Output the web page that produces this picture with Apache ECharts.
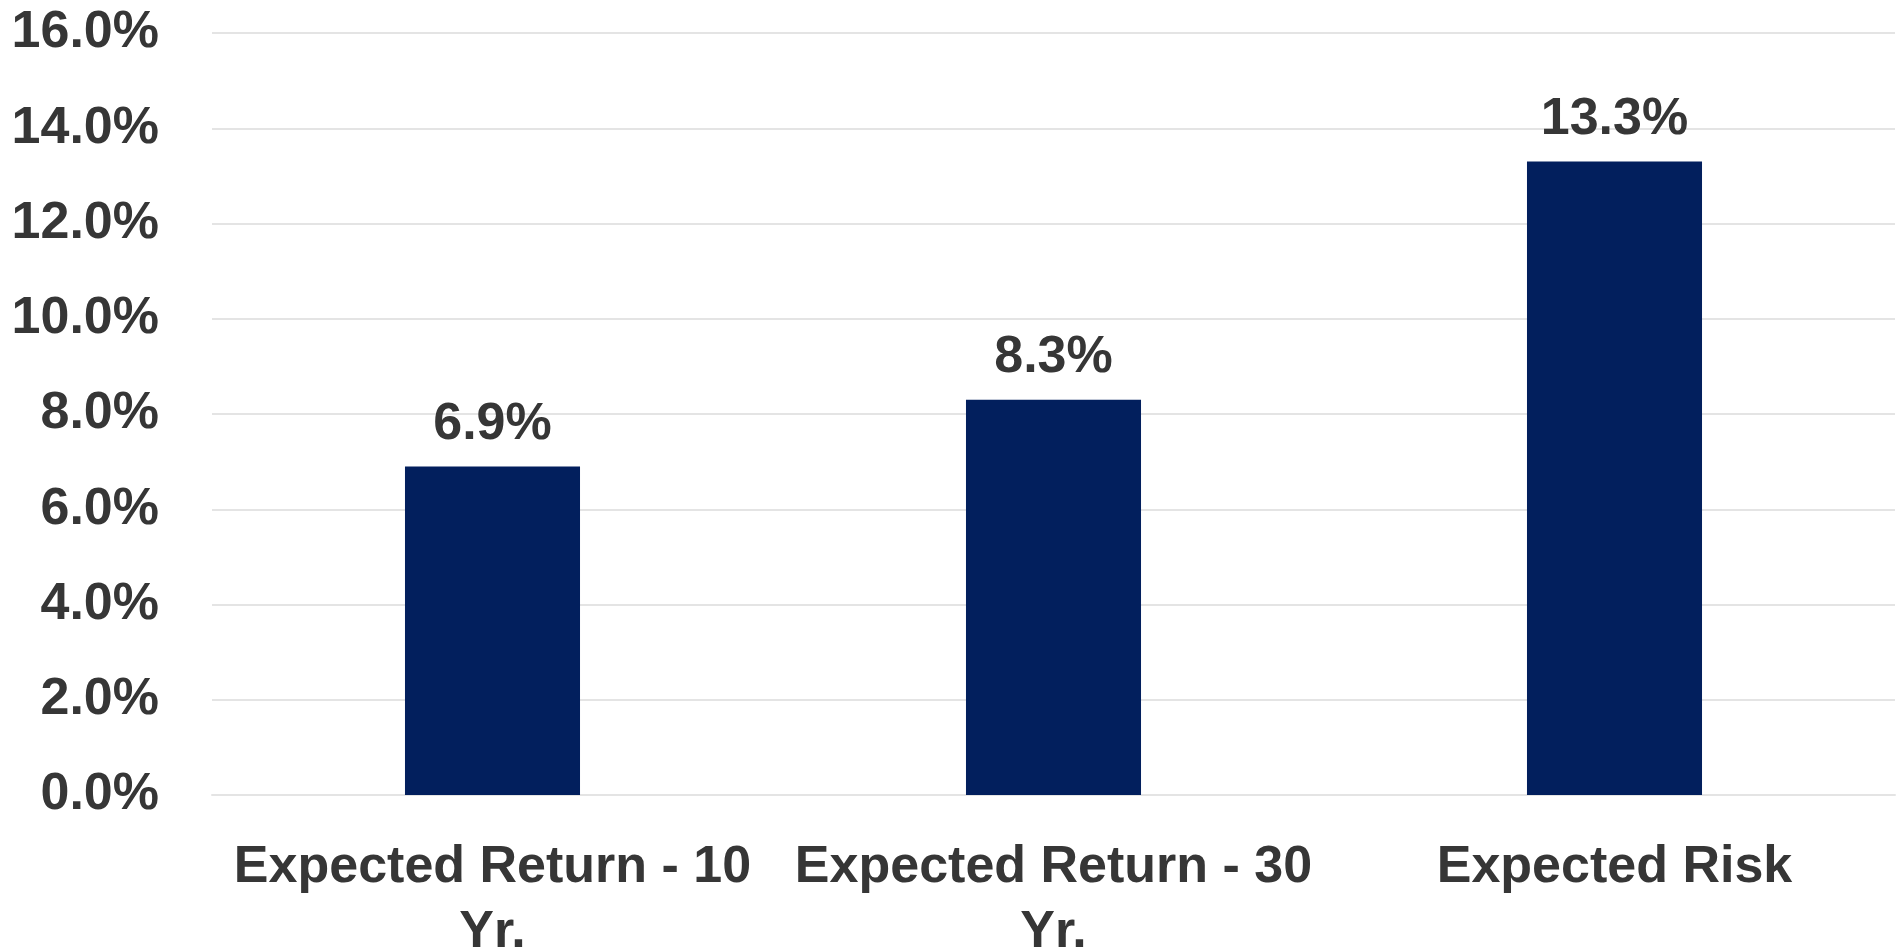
<!DOCTYPE html>
<html>
<head>
<meta charset="utf-8">
<script src="https://cdn.jsdelivr.net/npm/echarts@6/dist/echarts.min.js"></script>
<style>
html,body{margin:0;padding:0;background:#fff;}
#chart{width:1902px;height:952px;}
</style>
</head>
<body>
<div id="chart"></div>
<script>
const categories = ['Expected Return - 10 Yr.', 'Expected Return - 30 Yr.', 'Expected Risk'];
const values = [6.9, 8.3, 13.3];
const yMin = 0, yMax = 16, yStep = 2;

const FONT = '"Liberation Sans Narrow", "Arial Narrow", "Liberation Sans", Arial, sans-serif';
const TEXT = '#363636';

const chart = echarts.init(document.getElementById('chart'));
chart.setOption({
  animation: false,
  backgroundColor: '#ffffff',
  grid: { left: 212, right: 7, top: 33, bottom: 157, containLabel: false, outerBoundsMode: 'none' },
  xAxis: {
    type: 'category',
    data: categories,
    axisLine: { show: true, lineStyle: { color: '#e4e4e4', width: 2 } },
    axisTick: { show: false },
    axisLabel: {
      interval: 0,
      margin: 40,
      color: TEXT,
      fontFamily: FONT,
      fontWeight: 'bold',
      fontSize: 52,
      lineHeight: 65,
      formatter: function (v) { return v.replace(' Yr.', '\nYr.'); }
    }
  },
  yAxis: {
    type: 'value',
    min: yMin, max: yMax, interval: yStep,
    axisLine: { show: false },
    axisTick: { show: false },
    splitLine: { lineStyle: { color: '#e4e4e4', width: 2 } },
    axisLabel: {
      margin: 53,
      color: TEXT,
      fontFamily: FONT,
      fontWeight: 'bold',
      fontSize: 52,
      formatter: function (v) { return v.toFixed(1) + '%'; }
    }
  },
  series: [{
    type: 'bar',
    data: values,
    barWidth: '31.2%',
    itemStyle: { color: '#021f5d' },
    label: {
      show: true,
      position: 'top',
      distance: 16,
      color: TEXT,
      fontFamily: FONT,
      fontWeight: 'bold',
      fontSize: 52,
      formatter: function (p) { return p.value.toFixed(1) + '%'; }
    }
  }]
});
</script>
</body>
</html>
